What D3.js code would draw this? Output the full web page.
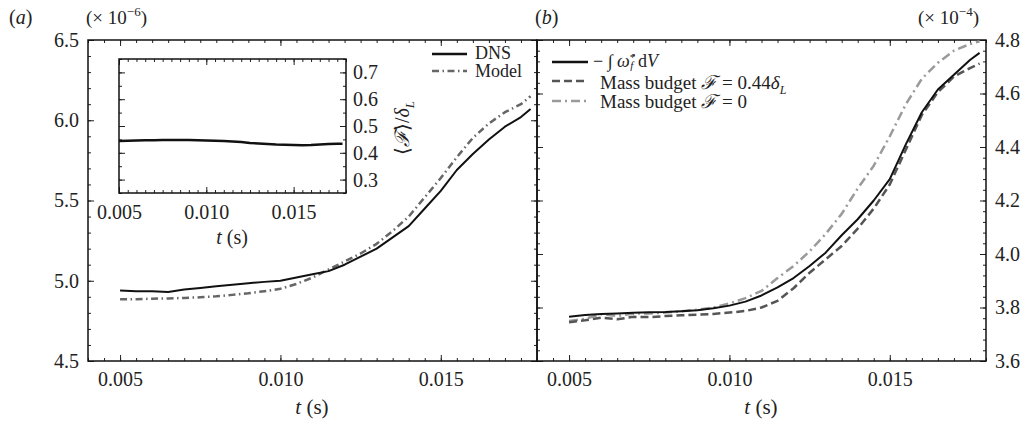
<!DOCTYPE html>
<meta charset="utf-8">
<script src="https://d3js.org/d3.v7.min.js"></script>
<style>
body { margin: 0; background: #fff; }
text { font-family: "Liberation Serif", "Times New Roman", serif; fill: #222; }
</style>
<div id="chart"></div>
<script>

// time samples (s)
var t = [0.005, 0.0055, 0.006, 0.0065, 0.007, 0.0075, 0.008, 0.0085, 0.009, 0.0095,
         0.010, 0.0105, 0.011, 0.0115, 0.012, 0.0125, 0.013, 0.0135, 0.014, 0.0145,
         0.015, 0.0155, 0.016, 0.0165, 0.017, 0.0175, 0.0178];

// panel (a), x 1e-6
var dns   = [4.94, 4.935, 4.935, 4.93, 4.945, 4.955, 4.965, 4.975, 4.985, 4.993,
             5.00, 5.02, 5.04, 5.06, 5.10, 5.15, 5.20, 5.27, 5.34, 5.45,
             5.56, 5.69, 5.79, 5.88, 5.96, 6.02, 6.07];
var model = [4.885, 4.885, 4.888, 4.89, 4.893, 4.897, 4.903, 4.912, 4.922, 4.935,
             4.95, 4.98, 5.02, 5.07, 5.12, 5.17, 5.23, 5.31, 5.40, 5.52,
             5.64, 5.77, 5.89, 5.98, 6.05, 6.10, 6.15];
// inset <F>/deltaL
var fRatio = [0.444, 0.445, 0.446, 0.447, 0.447, 0.448, 0.448, 0.448, 0.448, 0.447,
              0.446, 0.445, 0.444, 0.442, 0.44, 0.437, 0.435, 0.433, 0.431, 0.43,
              0.429, 0.428, 0.429, 0.431, 0.433, 0.434, 0.434];

// panel (b), x 1e-4
var omegaInt  = [3.765, 3.772, 3.776, 3.778, 3.780, 3.782, 3.783, 3.786, 3.79, 3.797,
                 3.807, 3.822, 3.845, 3.875, 3.91, 3.955, 4.005, 4.07, 4.13, 4.20,
                 4.28, 4.41, 4.53, 4.615, 4.67, 4.725, 4.752];
var budget044 = [3.745, 3.752, 3.762, 3.756, 3.765, 3.764, 3.768, 3.771, 3.773, 3.776,
                 3.781, 3.787, 3.800, 3.825, 3.872, 3.93, 3.98, 4.03, 4.095, 4.17,
                 4.26, 4.39, 4.52, 4.605, 4.663, 4.695, 4.712];
var budget0   = [3.75, 3.758, 3.775, 3.768, 3.777, 3.778, 3.781, 3.786, 3.792, 3.80,
                 3.815, 3.835, 3.862, 3.91, 3.955, 4.01, 4.075, 4.15, 4.245, 4.33,
                 4.44, 4.56, 4.655, 4.715, 4.76, 4.785, 4.795];

var tTicks = [0.005, 0.010, 0.015];
var aTicks = [4.5, 5.0, 5.5, 6.0, 6.5];
var bTicks = [3.6, 3.8, 4.0, 4.2, 4.4, 4.6, 4.8];
var fTicks = [0.3, 0.4, 0.5, 0.6, 0.7];

var svg = d3.select("#chart").append("svg")
    .attr("width", 1027)
    .attr("height", 425);

// scales (ranges are page pixels)
var xa = d3.scaleLinear().domain([0.004, 0.018]).range([88, 537]);
var ya = d3.scaleLinear().domain([4.5, 6.5]).range([361, 40]);
var xb = d3.scaleLinear().domain([0.004, 0.018]).range([537, 986]);
var yb = d3.scaleLinear().domain([3.6, 4.8]).range([361, 40]);
var xi = d3.scaleLinear().domain([0.005, 0.018]).range([119, 346]);
var yi = d3.scaleLinear().domain([0.25, 0.75]).range([193, 59]);

function side(axis, pos, vals, size, fmt, pad) {
  svg.append("g")
    .attr("transform", pos)
    .call(axis.tickValues(vals).tickSize(size).tickSizeOuter(0)
      .tickPadding(pad || 0).tickFormat(fmt || (function() { return ""; })))
    .attr("font-size", 20)
    .attr("font-family", null)
    .call(function(g) { g.select(".domain").remove(); })
    .call(function(g) { g.selectAll("line").attr("stroke", "#222"); });
}

// draws the box, inward ticks on all sides, labels where asked
function frame(x, y, o) {
  var x0 = x.range()[0], x1 = x.range()[1], y0 = y.range()[1], y1 = y.range()[0];
  if (o.fill) svg.append("rect").attr("x", x0).attr("y", y0)
    .attr("width", x1 - x0).attr("height", y1 - y0).attr("fill", "#fff");
  [[o.xTicks, 6], [o.xMinor, 3]].forEach(function(s, i) {
    side(d3.axisBottom(x), "translate(0," + y1 + ")", s[0], -s[1], i == 0 ? o.xFmt : null, o.xPad);
    side(d3.axisTop(x), "translate(0," + y0 + ")", s[0], -s[1]);
  });
  [o.yTicks, o.yMinor].forEach(function(v, i) {
    var len = i == 0 ? 6 : 3;
    side(d3.axisLeft(y), "translate(" + x0 + ",0)", v, -len, i == 0 && o.labelLeft ? o.yFmt : null, o.yPad);
    side(d3.axisRight(y), "translate(" + x1 + ",0)", v, -len, i == 0 && o.labelRight ? o.yFmt : null, o.yPad);
  });
  svg.append("rect").attr("x", x0).attr("y", y0)
    .attr("width", x1 - x0).attr("height", y1 - y0)
    .attr("fill", "none").attr("stroke", "#111").attr("stroke-width", 1.5);
}

function curve(x, y, vals, color, width, dash) {
  var line = d3.line().x(function(d, i) { return x(t[i]); }).y(function(d) { return y(d); });
  svg.append("path").datum(vals)
    .attr("d", line)
    .attr("fill", "none")
    .attr("stroke", color)
    .attr("stroke-width", width)
    .attr("stroke-dasharray", dash || null)
    .attr("stroke-linejoin", "round");
}

var tMinor = d3.range(8, 37).map(function(i) { return i * 0.0005; });
var f3 = d3.format(".3f"), f1 = d3.format(".1f");

// ---- panel (a)
frame(xa, ya, {
  xTicks: tTicks, xMinor: tMinor, xFmt: f3, xPad: 11,
  yTicks: aTicks, yMinor: d3.range(45, 66).map(function(i) { return i / 10; }),
  yFmt: f1, yPad: 9, labelLeft: true
});
curve(xa, ya, model, "#666", 2.5, "7,3.5,1.5,3.5");
curve(xa, ya, dns, "#111", 2);

// inset
frame(xi, yi, {
  fill: true,
  xTicks: tTicks, xMinor: d3.range(10, 37).map(function(i) { return i * 0.0005; }), xFmt: f3, xPad: 12,
  yTicks: fTicks, yMinor: d3.range(5, 16).map(function(i) { return i * 0.05; }),
  yFmt: f1, yPad: 7, labelRight: true
});
curve(xi, yi, fRatio, "#111", 2.5);

// ---- panel (b)
frame(xb, yb, {
  xTicks: tTicks, xMinor: tMinor, xFmt: f3, xPad: 11,
  yTicks: bTicks, yMinor: d3.range(90, 121).map(function(i) { return i * 0.04; }),
  yFmt: f1, yPad: 9, labelRight: true
});
curve(xb, yb, budget0, "#9a9a9a", 2.5, "9,4,2,4");
curve(xb, yb, budget044, "#555", 2.5, "8,4");
curve(xb, yb, omegaInt, "#111", 2);

// ---- text
function label(x, y, size) {
  return svg.append("text").attr("x", x).attr("y", y).attr("font-size", size || 20);
}
var a = label(9, 24); a.append("tspan").text("(");
a.append("tspan").attr("font-style", "italic").text("a"); a.append("tspan").text(")");
var b = label(535, 24); b.append("tspan").text("(");
b.append("tspan").attr("font-style", "italic").text("b"); b.append("tspan").text(")");

var sa = label(86, 24, 19); sa.append("tspan").text("(× 10");
sa.append("tspan").attr("dy", -8).attr("font-size", 13).text("−6");
sa.append("tspan").attr("dy", 8).text(")");
var sb = label(918, 24, 19); sb.append("tspan").text("(× 10");
sb.append("tspan").attr("dy", -8).attr("font-size", 13).text("−4");
sb.append("tspan").attr("dy", 8).text(")");

function tLabel(x, y, size) {
  var s = label(x, y, size).attr("text-anchor", "middle");
  s.append("tspan").attr("font-style", "italic").text("t");
  s.append("tspan").text(" (s)");
}
tLabel(312, 414, 21);
tLabel(761, 414, 21);
tLabel(232, 244, 20);

// inset y label
var il = svg.append("text").attr("font-size", 20)
  .attr("transform", "translate(409,128) rotate(-90)").attr("text-anchor", "middle");
il.append("tspan").text("⟨");
il.append("tspan").attr("font-style", "italic").text("ℱ");
il.append("tspan").text("⟩/");
il.append("tspan").attr("font-style", "italic").text("δ");
il.append("tspan").attr("font-style", "italic").attr("font-size", 13).attr("dy", 5).text("L");

// legend (a)
function key(x0, x1, y, color, width, dash) {
  svg.append("line").attr("x1", x0).attr("x2", x1).attr("y1", y).attr("y2", y)
    .attr("stroke", color).attr("stroke-width", width).attr("stroke-dasharray", dash || null);
}
key(432, 467, 54, "#111", 2.5);
key(432, 467, 71, "#666", 2.5, "7,3.5,1.5,3.5");
label(475, 59, 18).text("DNS");
label(475, 77, 18).text("Model");

// legend (b)
key(552, 588, 62, "#111", 2.5);
key(552, 588, 81, "#555", 2.5, "8,4");
key(552, 588, 101, "#9a9a9a", 2.5, "9,4,2,4");
var l1 = label(593, 67, 18);
l1.append("tspan").text("− ");
l1.append("tspan").text("∫  ");
l1.append("tspan").attr("font-style", "italic").text("ω̇");
l1.append("tspan").attr("font-size", 11).attr("dy", -6).text("*");
l1.append("tspan").attr("font-size", 11).attr("font-style", "italic").attr("dx", -5).attr("dy", 8).text("f");
l1.append("tspan").attr("dy", -2).text("   d");
l1.append("tspan").attr("font-style", "italic").text("V");
function budget(y, val) {
  var s = label(600, y, 19);
  s.append("tspan").text("Mass budget  ");
  s.append("tspan").attr("font-style", "italic").text("ℱ");
  s.append("tspan").text(" = " + val);
  return s;
}
var l2 = budget(89, "0.44");
l2.append("tspan").attr("font-style", "italic").text("δ");
l2.append("tspan").attr("font-style", "italic").attr("font-size", 12).attr("dy", 5).text("L");
budget(108, "0");

</script>
